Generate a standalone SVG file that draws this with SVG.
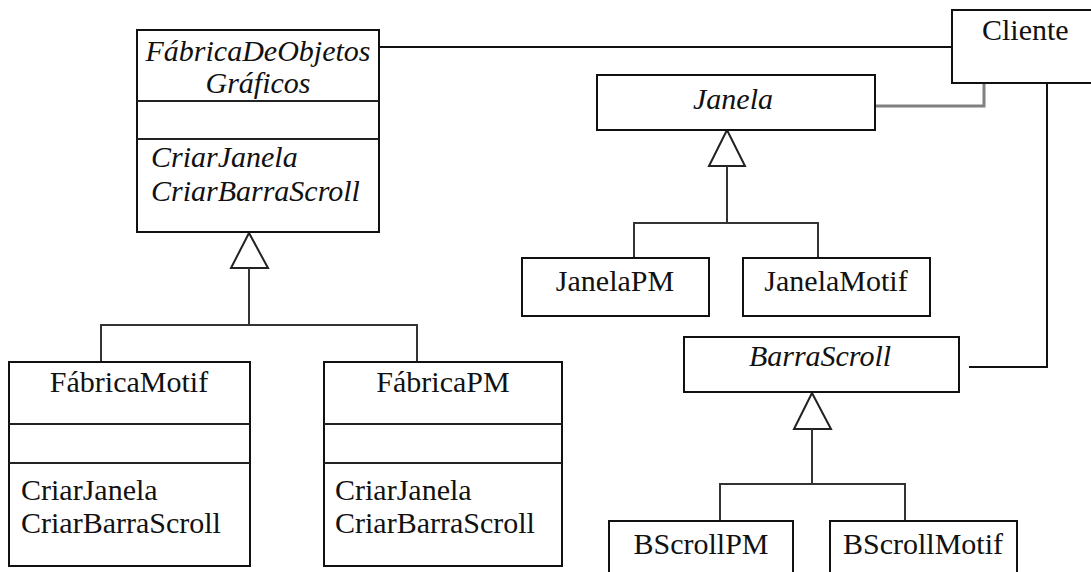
<svg xmlns="http://www.w3.org/2000/svg" width="1091" height="572" viewBox="0 0 1091 572">
  <style>
    .box { fill: #ffffff; stroke: #111111; stroke-width: 2; }
    .div { stroke: #222222; stroke-width: 2; fill: none; }
    .t { font-size: 30px; fill: #111111; }
    .i { font-style: italic; }
    .c { text-anchor: middle; }
    .link { stroke: #111111; stroke-width: 2; fill: none; }
    .gen { stroke: #333333; stroke-width: 2; fill: none; }
    .soft { stroke: #808080; stroke-width: 3; fill: none; }
    .tri { fill: #ffffff; stroke: #222222; stroke-width: 2; stroke-linejoin: miter; }
  </style>
  <rect width="1091" height="572" fill="#ffffff"/>

  <!-- connectors -->
  <g id="connectors">
    <!-- factory to client -->
    <line class="link" x1="379" y1="47" x2="952" y2="47"/>
    <!-- client to Janela -->
    <polyline class="soft" points="875,106 984,106 984,83"/>
    <!-- client to BarraScroll -->
    <polyline class="link" points="1047,83 1047,367 969,367"/>
    <!-- factory generalization -->
    <polygon class="tri" points="249,233 231,268 268,268"/>
    <polyline class="gen" points="249,268 249,325"/>
    <polyline class="gen" points="101,362 101,325 417,325 417,362"/>
    <!-- Janela generalization -->
    <polygon class="tri" points="727,130 709,166 745,166"/>
    <polyline class="gen" points="727,166 727,223"/>
    <polyline class="gen" points="634,258 634,223 818,223 818,258"/>
    <!-- BarraScroll generalization -->
    <polygon class="tri" points="812,393 794,429 831,429"/>
    <polyline class="gen" points="812,429 812,484"/>
    <polyline class="gen" points="720,521 720,484 905,484 905,521"/>
  </g>

  <g font-family="Liberation Serif, Times New Roman, Times, Noto Serif, DejaVu Serif, FreeSerif, serif">
  <g id="fabrica-objetos-graficos">
    <rect class="box" x="137" y="30" width="242" height="202"/>
    <line class="div" x1="137" y1="101" x2="379" y2="101"/>
    <line class="div" x1="137" y1="139" x2="379" y2="139"/>
    <text class="t i c" x="258" y="61">FábricaDeObjetos</text>
    <text class="t i c" x="258" y="93">Gráficos</text>
    <text class="t i" x="151" y="167">CriarJanela</text>
    <text class="t i" x="151" y="201">CriarBarraScroll</text>
  </g>

  <g id="cliente">
    <rect class="box" x="952" y="10" width="145" height="73"/>
    <text class="t" x="982" y="40">Cliente</text>
  </g>

  <g id="janela">
    <rect class="box" x="597" y="75" width="278" height="55"/>
    <text class="t i c" x="733" y="109">Janela</text>
  </g>

  <g id="janela-pm">
    <rect class="box" x="522" y="258" width="187" height="58"/>
    <text class="t c" x="615" y="291">JanelaPM</text>
  </g>

  <g id="janela-motif">
    <rect class="box" x="743" y="258" width="187" height="58"/>
    <text class="t c" x="836" y="291">JanelaMotif</text>
  </g>

  <g id="barra-scroll">
    <rect class="box" x="684" y="337" width="275" height="55"/>
    <text class="t i c" x="820" y="366">BarraScroll</text>
  </g>

  <g id="bscroll-pm">
    <rect class="box" x="609" y="521" width="184" height="70"/>
    <text class="t c" x="701" y="554">BScrollPM</text>
  </g>

  <g id="bscroll-motif">
    <rect class="box" x="830" y="521" width="187" height="70"/>
    <text class="t c" x="923" y="554">BScrollMotif</text>
  </g>

  <g id="fabrica-motif">
    <rect class="box" x="9" y="362" width="241" height="204"/>
    <line class="div" x1="9" y1="424" x2="250" y2="424"/>
    <line class="div" x1="9" y1="463" x2="250" y2="463"/>
    <text class="t c" x="129" y="392">FábricaMotif</text>
    <text class="t" x="21" y="500">CriarJanela</text>
    <text class="t" x="21" y="533">CriarBarraScroll</text>
  </g>

  <g id="fabrica-pm">
    <rect class="box" x="324" y="362" width="238" height="204"/>
    <line class="div" x1="324" y1="424" x2="562" y2="424"/>
    <line class="div" x1="324" y1="463" x2="562" y2="463"/>
    <text class="t c" x="443" y="392">FábricaPM</text>
    <text class="t" x="335" y="500">CriarJanela</text>
    <text class="t" x="335" y="533">CriarBarraScroll</text>
  </g>
  </g>
</svg>
